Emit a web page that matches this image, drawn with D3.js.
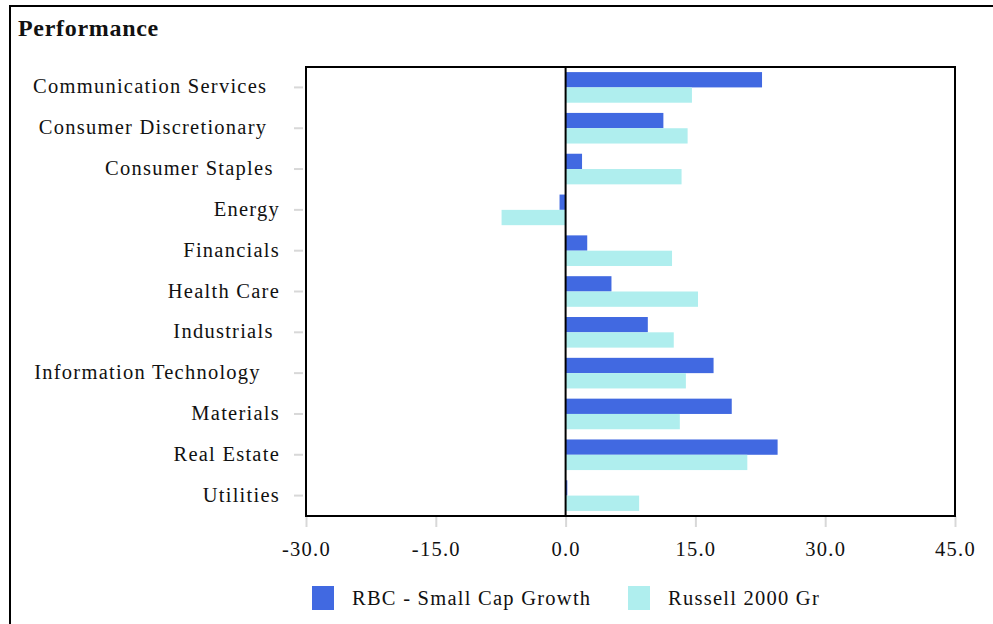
<!DOCTYPE html>
<html><head><meta charset="utf-8">
<script src="https://cdn.jsdelivr.net/npm/d3@7"></script>
<style>
html,body{margin:0;padding:0;background:#fff;overflow:hidden;}
text{font-family:"Liberation Serif","DejaVu Serif",serif;fill:#111;}
</style></head><body>
<svg id="c" width="993" height="624"></svg>
<script>
const categories = ["Communication Services","Consumer Discretionary","Consumer Staples","Energy","Financials","Health Care","Industrials","Information Technology","Materials","Real Estate","Utilities"];
const labelPad = [2,2,1,0,0,0,1,3,0,0,0];
const rbcValues = [22.7,11.3,1.9,-0.7,2.5,5.3,9.5,17.1,19.2,24.5,0.2];
const russellValues = [14.6,14.1,13.4,-7.4,12.3,15.3,12.5,13.9,13.2,21.0,8.5];
const seriesNames = ["RBC - Small Cap Growth","Russell 2000 Gr"];
const seriesColors = ["#4169E1","#AFEEEE"];
const xTicks = [-30,-15,0,15,30,45];

const FS = 20.5, LS = "1.25px";
const svg = d3.select("#c");
const L=306,R=955,T=67,B=516;
// outer border
svg.append("rect").attr("x",10).attr("y",6).attr("width",1000).attr("height",700)
  .attr("fill","none").attr("stroke","#000").attr("stroke-width",2);
svg.append("text").attr("x",18).attr("y",36).attr("font-size",24).attr("font-weight","bold")
  .style("letter-spacing","0.7px").text("Performance");

const x = d3.scaleLinear().domain([-30,45]).range([L,R]);
const y = d3.scaleBand().domain(categories).range([T,B]).paddingInner(0.25).paddingOuter(0.125);
const ys = d3.scaleBand().domain([0,1]).range([0,y.bandwidth()]);

// x ticks
const xa = svg.append("g").attr("transform",`translate(0,${B})`)
  .call(d3.axisBottom(x).tickValues(xTicks).tickFormat(d=>d.toFixed(1)).tickSize(11).tickPadding(14));
xa.select(".domain").remove();
xa.selectAll("line").attr("stroke","#d8d8d8").attr("stroke-width",2);
xa.selectAll("text").attr("font-size",FS).attr("fill","#111").attr("font-family","Liberation Serif").style("letter-spacing",LS);

// y ticks
const ya = svg.append("g").attr("transform",`translate(${L},0)`)
  .call(d3.axisLeft(y).tickSize(12).tickPadding(0).tickFormat(""));
ya.select(".domain").remove();
ya.selectAll("line").attr("stroke","#d8d8d8").attr("stroke-width",2).attr("x2",-12).attr("x1",-3);
svg.append("g").selectAll("text").data(categories).join("text")
  .attr("x",280).attr("y",d=>y(d)+y.bandwidth()/2+6)
  .attr("text-anchor","end").attr("font-size",FS).style("white-space","pre").style("letter-spacing",LS)
  .text((d,i)=>d+" ".repeat(labelPad[i]));

// bars
const data = [rbcValues,russellValues];
data.forEach((vals,s)=>{
  svg.append("g").selectAll("rect").data(vals).join("rect")
    .attr("x",d=>x(Math.min(0,d))).attr("width",d=>Math.abs(x(d)-x(0)))
    .attr("y",(d,i)=>y(categories[i])+ys(s)).attr("height",ys.bandwidth())
    .attr("fill",seriesColors[s]);
});
// zero line
svg.append("line").attr("x1",x(0)).attr("x2",x(0)).attr("y1",T).attr("y2",B).attr("stroke","#000").attr("stroke-width",2);
// frame
svg.append("rect").attr("x",L).attr("y",T).attr("width",R-L).attr("height",B-T).attr("fill","none").attr("stroke","#000").attr("stroke-width",2);

// legend
const lx=[312,628];
seriesNames.forEach((n,i)=>{
  svg.append("rect").attr("x",lx[i]).attr("y",586).attr("width",22).attr("height",24).attr("fill",seriesColors[i]);
  svg.append("text").attr("x",lx[i]+40).attr("y",605).attr("font-size",FS).style("letter-spacing",LS).text(n);
});
</script></body></html>
